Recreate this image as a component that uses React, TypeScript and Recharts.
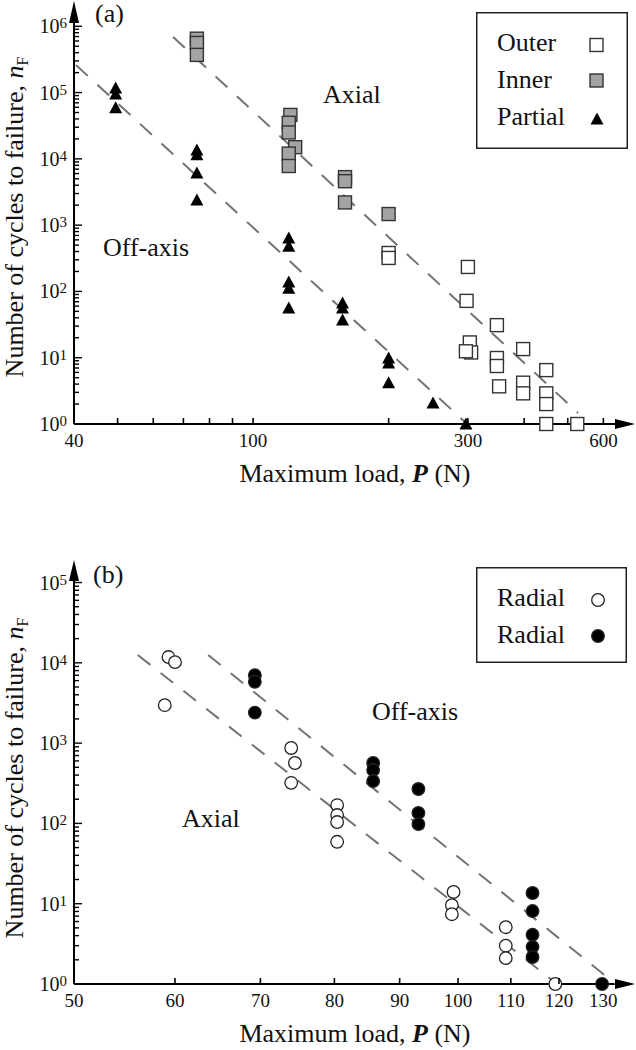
import { ScatterChart, Scatter, XAxis, YAxis, Legend } from "recharts";

const FONT = "Liberation Serif";

// (a) maximum load P (N) against cycles to failure nF
const outerA = [
  { p: 200, n: 380 }, { p: 200, n: 320 }, { p: 300, n: 234 }, { p: 298, n: 72 },
  { p: 303, n: 17 }, { p: 305, n: 12 }, { p: 297, n: 12.5 },
  { p: 348, n: 31 }, { p: 348, n: 9.9 }, { p: 348, n: 7.5 }, { p: 352, n: 3.7 },
  { p: 398, n: 13.5 }, { p: 398, n: 4.2 }, { p: 398, n: 2.9 },
  { p: 448, n: 6.5 }, { p: 448, n: 2.9 }, { p: 448, n: 2.0 }, { p: 448, n: 1 },
  { p: 525, n: 1 },
];
const innerA = [
  { p: 75, n: 6.5e5 }, { p: 75, n: 5.6e5 }, { p: 75, n: 3.7e5 },
  { p: 121, n: 4.6e4 }, { p: 120, n: 3.5e4 }, { p: 120, n: 2.5e4 },
  { p: 124, n: 1.5e4 }, { p: 120, n: 1.2e4 }, { p: 120, n: 7.8e3 },
  { p: 160, n: 5.3e3 }, { p: 160, n: 4.6e3 }, { p: 160, n: 2.2e3 },
  { p: 200, n: 1.47e3 },
];
const partialA = [
  { p: 49.5, n: 1.17e5 }, { p: 49.5, n: 9.5e4 }, { p: 49.5, n: 5.9e4 },
  { p: 75, n: 1.36e4 }, { p: 75, n: 1.15e4 }, { p: 75, n: 6.1e3 }, { p: 75, n: 2.4e3 },
  { p: 120, n: 640 }, { p: 120, n: 480 }, { p: 120, n: 139 }, { p: 120, n: 112 }, { p: 120, n: 56 },
  { p: 158, n: 67 }, { p: 158, n: 56 }, { p: 158, n: 37 },
  { p: 200, n: 9.9 }, { p: 200, n: 8.3 }, { p: 200, n: 4.2 },
  { p: 251, n: 2.07 }, { p: 297, n: 1 },
];
const axialFitA = [{ p: 66.4, n: 6.9e5 }, { p: 527, n: 1.47 }];
const offAxisFitA = [{ p: 40.4, n: 2.6e5 }, { p: 299, n: 1 }];

const xTicksA = [40, 50, 60, 70, 80, 90, 100, 200, 300, 400, 500, 600];
const xLabelsA = [40, 100, 300, 600];

// (b)
const openB = [
  { p: 59.3, n: 1.18e4 }, { p: 60, n: 1.02e4 }, { p: 58.9, n: 2.97e3 },
  { p: 74, n: 870 }, { p: 74.5, n: 565 }, { p: 74, n: 320 },
  { p: 80.4, n: 169 }, { p: 80.4, n: 127 }, { p: 80.4, n: 104 }, { p: 80.4, n: 59 },
  { p: 99.2, n: 14 }, { p: 98.9, n: 9.6 }, { p: 98.9, n: 7.4 },
  { p: 109, n: 5.1 }, { p: 109, n: 3.0 }, { p: 109, n: 2.1 },
  { p: 119.2, n: 1 },
];
const filledB = [
  { p: 69.3, n: 7.0e3 }, { p: 69.3, n: 5.8e3 }, { p: 69.3, n: 2.4e3 },
  { p: 85.8, n: 565 }, { p: 85.8, n: 462 }, { p: 85.8, n: 337 },
  { p: 93.1, n: 268 }, { p: 93.1, n: 135 }, { p: 93.1, n: 98 },
  { p: 114.4, n: 13.6 }, { p: 114.4, n: 8.1 }, { p: 114.4, n: 4.1 }, { p: 114.4, n: 2.9 }, { p: 114.4, n: 2.17 },
  { p: 129.7, n: 1 },
];
const axialFitB = [{ p: 56.1, n: 1.25e4 }, { p: 119.6, n: 1 }];
const offAxisFitB = [{ p: 63.7, n: 1.25e4 }, { p: 132.9, n: 1 }];

const xTicksB = [50, 60, 70, 80, 90, 100, 110, 120, 130];

function decadeTicks(top: number) {
  const out: number[] = [];
  for (let d = 0; d < top; d++) for (let k = 1; k <= 9; k++) out.push(k * Math.pow(10, d));
  out.push(Math.pow(10, top));
  return out;
}
const yTicksA = decadeTicks(6);
const yTicksB = decadeTicks(5);

const DASH = { stroke: "#737373", strokeWidth: 2, strokeDasharray: "16 13" };

function XTick(props: any) {
  const { x, y, payload, labels } = props;
  const v = payload.value;
  return (
    <g>
      <line x1={x} x2={x} y1={y} y2={y - 6} stroke="#000" strokeWidth={1.6} />
      {labels.includes(v) && (
        <text x={x} y={y + 23} textAnchor="middle" fontSize={19} style={{ fontFamily: FONT }} fill="#111">
          {v}
        </text>
      )}
    </g>
  );
}

function YTick(props: any) {
  const { x, y, payload } = props;
  const e = Math.log10(payload.value);
  const major = Math.abs(e - Math.round(e)) < 1e-6;
  return (
    <g>
      <line x1={x} x2={x + (major ? 8 : 5)} y1={y} y2={y} stroke="#000" strokeWidth={1.4} />
      {major && (
        <text x={x - 7} y={y + 7} textAnchor="end" fontSize={20} style={{ fontFamily: FONT }} fill="#111">
          10<tspan fontSize={15} dy={-5}>{Math.round(e)}</tspan>
        </text>
      )}
    </g>
  );
}

const square = (fill: string) => (p: any) => (
  <rect x={p.cx - 6.5} y={p.cy - 6.5} width={13} height={13} fill={fill} stroke="#333" strokeWidth={1.4} />
);
const triangle = (p: any) => (
  <polygon points={`${p.cx},${p.cy - 6.5} ${p.cx + 6.5},${p.cy + 5.5} ${p.cx - 6.5},${p.cy + 5.5}`} fill="#000" />
);
const circle = (fill: string) => (p: any) => (
  <circle cx={p.cx} cy={p.cy} r={6.3} fill={fill} stroke="#222" strokeWidth={1.3} />
);
const none = () => <g />;

function LegendA() {
  return (
    <svg width={152} height={137} style={{ display: "block" }}>
      <rect x={0.75} y={0.75} width={150.5} height={135.5} fill="#fff" stroke="#222" strokeWidth={1.5} />
      <g style={{ fontFamily: FONT }} fontSize={26} fill="#111">
        <text x={21} y={39}>Outer</text>
        <text x={21} y={76}>Inner</text>
        <text x={21} y={113}>Partial</text>
      </g>
      {square("#fff")({ cx: 120.5, cy: 33 })}
      {square("#a3a3a3")({ cx: 120.5, cy: 68.5 })}
      {triangle({ cx: 121, cy: 107 })}
    </svg>
  );
}

function LegendB() {
  return (
    <svg width={151} height={96} style={{ display: "block" }}>
      <rect x={0.75} y={0.75} width={149.5} height={94.5} fill="#fff" stroke="#222" strokeWidth={1.5} />
      <g style={{ fontFamily: FONT }} fontSize={26} fill="#111">
        <text x={21} y={39}>Radial</text>
        <text x={21} y={76}>Radial</text>
      </g>
      {circle("#fff")({ cx: 122, cy: 33 })}
      {circle("#000")({ cx: 122, cy: 69 })}
    </svg>
  );
}

const axisLine = { stroke: "#000", strokeWidth: 2 };

function YTitle({ x, y }: { x: number; y: number }) {
  return (
    <text transform={`translate(${x},${y}) rotate(-90)`} textAnchor="middle" fontSize={26} style={{ fontFamily: FONT }} fill="#111">
      Number of cycles to failure, <tspan fontStyle="italic">n</tspan>
      <tspan fontSize={16} dy={5}>F</tspan>
    </text>
  );
}

function XTitle({ y }: { y: number }) {
  return (
    <text x={355} y={y} textAnchor="middle" fontSize={26} style={{ fontFamily: FONT }} fill="#111">
      Maximum load, <tspan fontWeight="bold" fontStyle="italic">P</tspan> (N)
    </text>
  );
}

export default function App() {
  return (
    <div style={{ position: "absolute", left: 0, top: 0, width: 636, height: 1050, background: "#fff", fontFamily: FONT }}>
      <div style={{ position: "absolute", left: 0, top: 0 }}>
        <ScatterChart width={636} height={490} margin={{ top: 22, right: 20, bottom: 0, left: 0 }}>
          <XAxis
            type="number" dataKey="p" scale="log" domain={[40, 640]}
            ticks={xTicksA} interval={0} height={66} tickSize={0} tickMargin={0} tickLine={false}
            axisLine={axisLine} tick={(p: any) => <XTick {...p} labels={xLabelsA} />}
          />
          <YAxis
            type="number" dataKey="n" scale="log" domain={[1, 1.16e6]}
            ticks={yTicksA} interval={0} width={74} tickSize={0} tickMargin={0} tickLine={false}
            axisLine={axisLine} tick={(p: any) => <YTick {...p} />}
          />
          <Scatter name="Axial fit" data={axialFitA} line={DASH} shape={none} isAnimationActive={false} legendType="none" />
          <Scatter name="Off-axis fit" data={offAxisFitA} line={DASH} shape={none} isAnimationActive={false} legendType="none" />
          <Scatter name="Outer" data={outerA} shape={square("#fff")} isAnimationActive={false} />
          <Scatter name="Inner" data={innerA} shape={square("#a3a3a3")} isAnimationActive={false} />
          <Scatter name="Partial" data={partialA} shape={triangle} isAnimationActive={false} />
          <Legend
            layout="vertical" align="center" verticalAlign="middle"
            wrapperStyle={{ left: 476, top: 12, width: 152, height: 137 }}
            content={() => <LegendA />}
          />
        </ScatterChart>
      </div>
      <div style={{ position: "absolute", left: 0, top: 490 }}>
        <ScatterChart width={636} height={560} margin={{ top: 90, right: 20, bottom: 0, left: 0 }}>
          <XAxis
            type="number" dataKey="p" scale="log" domain={[50, 133]}
            ticks={xTicksB} interval={0} height={66} tickSize={0} tickMargin={0} tickLine={false}
            axisLine={axisLine} tick={(p: any) => <XTick {...p} labels={xTicksB} />}
          />
          <YAxis
            type="number" dataKey="n" scale="log" domain={[1, 1.075e5]}
            ticks={yTicksB} interval={0} width={74} tickSize={0} tickMargin={0} tickLine={false}
            axisLine={axisLine} tick={(p: any) => <YTick {...p} />}
          />
          <Scatter name="Axial fit" data={axialFitB} line={DASH} shape={none} isAnimationActive={false} legendType="none" />
          <Scatter name="Off-axis fit" data={offAxisFitB} line={DASH} shape={none} isAnimationActive={false} legendType="none" />
          <Scatter name="Radial" data={openB} shape={circle("#fff")} isAnimationActive={false} />
          <Scatter name="Radial " data={filledB} shape={circle("#000")} isAnimationActive={false} />
          <Legend
            layout="vertical" align="center" verticalAlign="middle"
            wrapperStyle={{ left: 476, top: 77, width: 151, height: 96 }}
            content={() => <LegendB />}
          />
        </ScatterChart>
      </div>
      <svg width={636} height={1050} style={{ position: "absolute", left: 0, top: 0, pointerEvents: "none" }}>
        <polygon points="74,1 69,23 79,23" fill="#000" />
        <polygon points="635,424 615,419 615,429" fill="#000" />
        <polygon points="74,560 69,581 79,581" fill="#000" />
        <polygon points="635,984 615,979 615,989" fill="#000" />
        <g style={{ fontFamily: FONT }} fill="#111">
          <text x={95} y={22} fontSize={26}>(a)</text>
          <text x={323} y={103} fontSize={26}>Axial</text>
          <text x={103} y={256} fontSize={26}>Off-axis</text>
          <text x={93} y={583} fontSize={26}>(b)</text>
          <text x={372} y={720} fontSize={26}>Off-axis</text>
          <text x={182} y={827} fontSize={26}>Axial</text>
        </g>
        <YTitle x={23} y={217} />
        <YTitle x={23} y={778} />
        <XTitle y={482} />
        <XTitle y={1042} />
      </svg>
    </div>
  );
}
